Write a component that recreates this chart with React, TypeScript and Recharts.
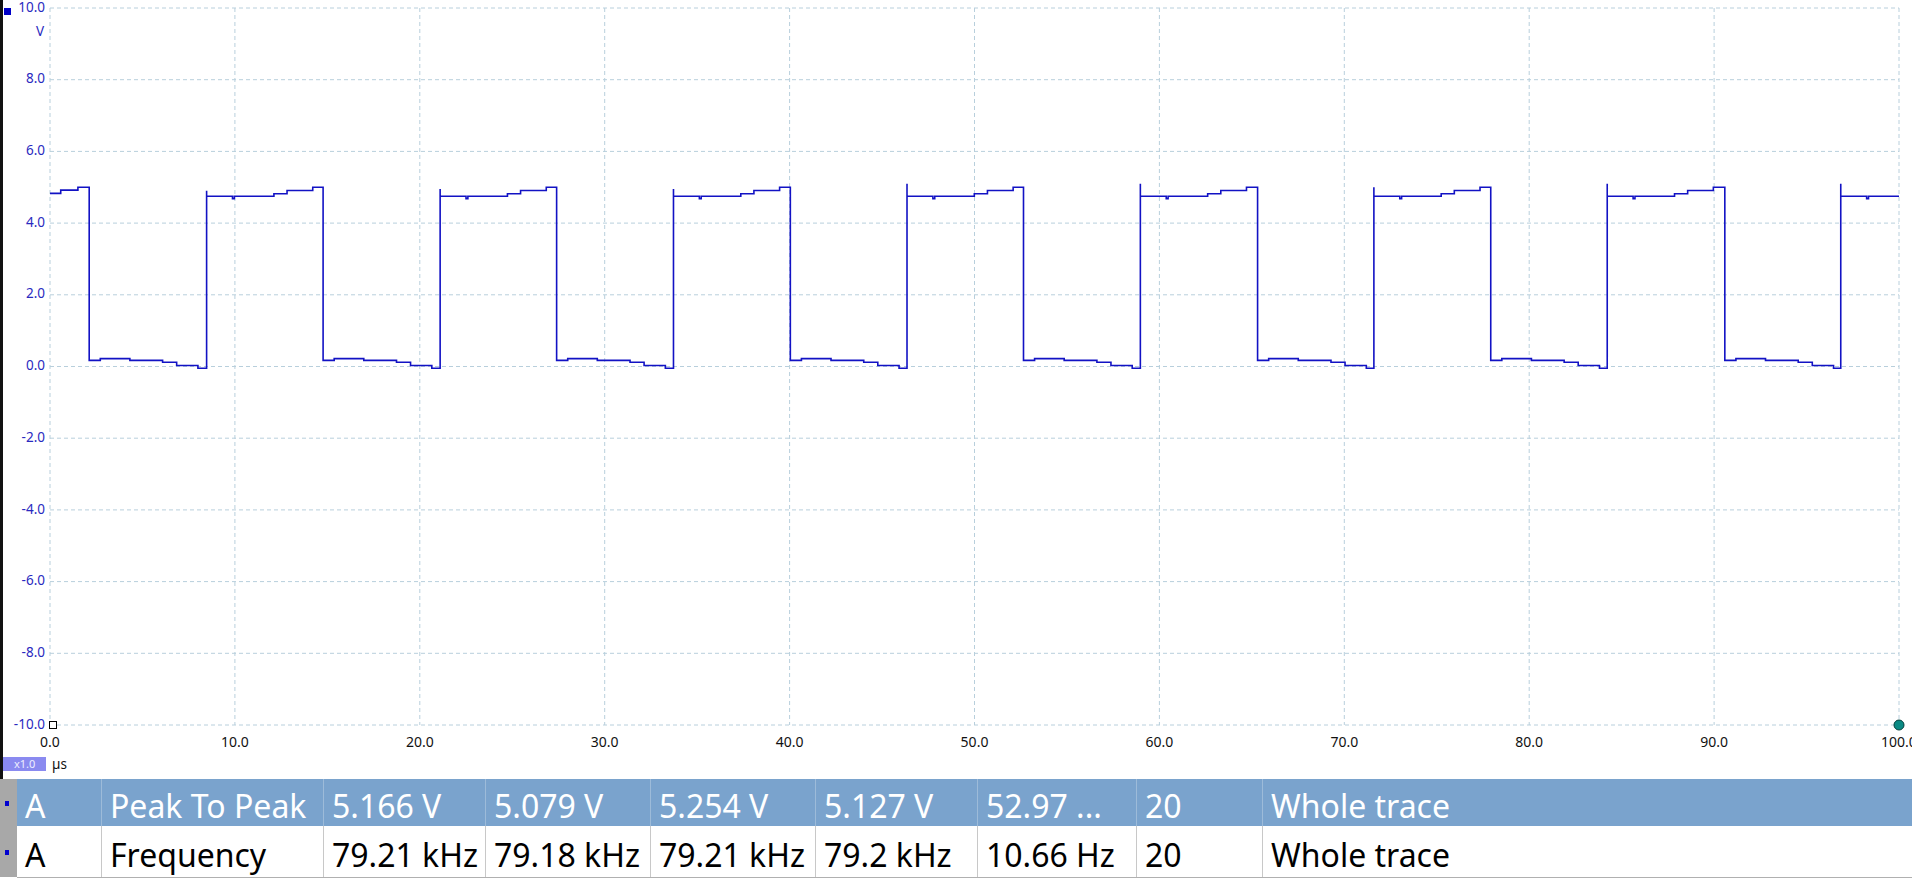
import React from "react";
import { LineChart, Line, XAxis, YAxis, CartesianGrid, ReferenceDot } from "recharts";

// Oscilloscope trace: [time µs, volts]
const trace: [number, number][] = [
  [0, 4.83], [0.58, 4.83], [0.58, 4.92], [1.51, 4.92], [1.51, 5.0], [2.12, 5.0],
  [2.12, 0.17], [2.72, 0.17], [2.72, 0.22], [4.32, 0.22], [4.32, 0.17], [6.09, 0.17], [6.09, 0.12], [6.85, 0.12], [6.85, 0.03], [8.0, 0.03], [8.0, -0.05], [8.47, -0.05],
  [8.47, 4.9], [8.47, 4.75], [9.87, 4.75], [9.87, 4.68], [9.97, 4.68], [9.97, 4.75], [12.11, 4.75], [12.11, 4.82], [12.82, 4.82], [12.82, 4.91], [14.21, 4.91], [14.21, 5.0], [14.77, 5.0],
  [14.77, 0.17], [15.37, 0.17], [15.37, 0.22], [16.97, 0.22], [16.97, 0.17], [18.74, 0.17], [18.74, 0.12], [19.5, 0.12], [19.5, 0.03], [20.65, 0.03], [20.65, -0.05], [21.1, -0.05],
  [21.1, 4.95], [21.1, 4.75], [22.5, 4.75], [22.5, 4.68], [22.6, 4.68], [22.6, 4.75], [24.74, 4.75], [24.74, 4.82], [25.45, 4.82], [25.45, 4.91], [26.84, 4.91], [26.84, 5.0], [27.4, 5.0],
  [27.4, 0.17], [28.0, 0.17], [28.0, 0.22], [29.6, 0.22], [29.6, 0.17], [31.37, 0.17], [31.37, 0.12], [32.13, 0.12], [32.13, 0.03], [33.28, 0.03], [33.28, -0.05], [33.72, -0.05],
  [33.72, 4.95], [33.72, 4.75], [35.12, 4.75], [35.12, 4.68], [35.22, 4.68], [35.22, 4.75], [37.36, 4.75], [37.36, 4.82], [38.07, 4.82], [38.07, 4.91], [39.46, 4.91], [39.46, 5.0], [40.04, 5.0],
  [40.04, 0.17], [40.64, 0.17], [40.64, 0.22], [42.24, 0.22], [42.24, 0.17], [44.01, 0.17], [44.01, 0.12], [44.77, 0.12], [44.77, 0.03], [45.92, 0.03], [45.92, -0.05], [46.35, -0.05],
  [46.35, 5.1], [46.35, 4.75], [47.75, 4.75], [47.75, 4.68], [47.85, 4.68], [47.85, 4.75], [49.99, 4.75], [49.99, 4.82], [50.7, 4.82], [50.7, 4.91], [52.09, 4.91], [52.09, 5.0], [52.65, 5.0],
  [52.65, 0.17], [53.25, 0.17], [53.25, 0.22], [54.85, 0.22], [54.85, 0.17], [56.62, 0.17], [56.62, 0.12], [57.38, 0.12], [57.38, 0.03], [58.53, 0.03], [58.53, -0.05], [58.97, -0.05],
  [58.97, 5.1], [58.97, 4.75], [60.37, 4.75], [60.37, 4.68], [60.47, 4.68], [60.47, 4.75], [62.61, 4.75], [62.61, 4.82], [63.32, 4.82], [63.32, 4.91], [64.71, 4.91], [64.71, 5.0], [65.31, 5.0],
  [65.31, 0.17], [65.91, 0.17], [65.91, 0.22], [67.51, 0.22], [67.51, 0.17], [69.28, 0.17], [69.28, 0.12], [70.04, 0.12], [70.04, 0.03], [71.19, 0.03], [71.19, -0.05], [71.6, -0.05],
  [71.6, 5.0], [71.6, 4.75], [73.0, 4.75], [73.0, 4.68], [73.1, 4.68], [73.1, 4.75], [75.24, 4.75], [75.24, 4.82], [75.95, 4.82], [75.95, 4.91], [77.34, 4.91], [77.34, 5.0], [77.92, 5.0],
  [77.92, 0.17], [78.52, 0.17], [78.52, 0.22], [80.12, 0.22], [80.12, 0.17], [81.89, 0.17], [81.89, 0.12], [82.65, 0.12], [82.65, 0.03], [83.8, 0.03], [83.8, -0.05], [84.22, -0.05],
  [84.22, 5.1], [84.22, 4.75], [85.62, 4.75], [85.62, 4.68], [85.72, 4.68], [85.72, 4.75], [87.86, 4.75], [87.86, 4.82], [88.57, 4.82], [88.57, 4.91], [89.96, 4.91], [89.96, 5.0], [90.58, 5.0],
  [90.58, 0.17], [91.18, 0.17], [91.18, 0.22], [92.78, 0.22], [92.78, 0.17], [94.55, 0.17], [94.55, 0.12], [95.31, 0.12], [95.31, 0.03], [96.46, 0.03], [96.46, -0.05], [96.85, -0.05],
  [96.85, 5.1], [96.85, 4.75], [98.25, 4.75], [98.25, 4.68], [98.35, 4.68], [98.35, 4.75], [100, 4.75],
];

const xTicks = [0, 10, 20, 30, 40, 50, 60, 70, 80, 90, 100];
const yTicks = [-10, -8, -6, -4, -2, 0, 2, 4, 6, 8, 10];

const colEdges = [17, 101, 323, 485, 650, 815, 977, 1136, 1262, 1912];
const row1 = ["A", "Peak To Peak", "5.166 V", "5.079 V", "5.254 V", "5.127 V", "52.97 ...", "20", "Whole trace"];
const row2 = ["A", "Frequency", "79.21 kHz", "79.18 kHz", "79.21 kHz", "79.2 kHz", "10.66 Hz", "20", "Whole trace"];

const data = trace.map(([t, v]) => ({ t, v }));

const XTick = (props: any) => (
  <text x={props.x} y={props.y + 18} textAnchor="middle" dominantBaseline="middle" fontSize={14} fill="#111" fontFamily="Noto Sans">
    {Number(props.payload.value).toFixed(1)}
  </text>
);
const YTick = (props: any) => (
  <text x={props.x - 5} y={props.y} textAnchor="end" dominantBaseline="middle" fontSize={13.5} fill="#2a2ac0" fontFamily="Noto Sans">
    {Number(props.payload.value).toFixed(1)}
  </text>
);

const SquareMarker = (props: any) => (
  <rect x={props.cx - 0.5} y={props.cy - 3.5} width={7} height={7} fill="#fff" stroke="#000" strokeWidth={1} />
);

const Row = ({ cells, top, height, bg, color, border }: any) => (
  <>
    <div style={{ position: "absolute", left: 0, top, width: 17, height, background: "#a8a8a8" }} />
    <div style={{ position: "absolute", left: 5, top: top + height / 2 - 2, width: 4, height: 5, background: "#0000d0" }} />
    {cells.map((c: string, i: number) => (
      <div
        key={i}
        style={{
          position: "absolute",
          left: colEdges[i],
          top,
          width: colEdges[i + 1] - colEdges[i],
          height,
          background: bg,
          borderLeft: i > 0 ? `1px solid ${border}` : "none",
          boxSizing: "border-box",
          color,
          fontSize: 32,
          fontFamily: "Noto Sans",
          lineHeight: `${height + 6}px`,
          paddingLeft: 8,
          whiteSpace: "nowrap",
          overflow: "hidden",
        }}
      >
        {c}
      </div>
    ))}
  </>
);

export default function App() {
  return (
    <div style={{ position: "fixed", left: 0, top: 0, width: 1912, height: 880, background: "#fff", overflow: "hidden", fontFamily: "Noto Sans" }}>
      <LineChart width={1912} height={780} data={data} margin={{ top: 8, right: 13, bottom: 0, left: 0 }}>
        <CartesianGrid stroke="#b8cfdc" strokeDasharray="4 3" />
        <XAxis dataKey="t" type="number" domain={[0, 100]} ticks={xTicks} height={55} tickSize={0} tickMargin={0} axisLine={false} tickLine={false} tick={<XTick />} interval={0} />
        <YAxis type="number" domain={[-10, 10]} ticks={yTicks} width={50} tickSize={0} tickMargin={0} axisLine={false} tickLine={false} tick={<YTick />} interval={0} />
        <Line type="linear" dataKey="v" stroke="#1212c4" strokeWidth={1.6} dot={false} isAnimationActive={false} />
        <ReferenceDot x={0} y={-10} r={4} shape={<SquareMarker />} ifOverflow="visible" />
        <ReferenceDot x={100} y={-10} r={5} fill="#0a8a84" stroke="#03403d" strokeWidth={1} ifOverflow="visible" />
      </LineChart>
      {/* left dark edge and channel marker */}
      <div style={{ position: "absolute", left: 0, top: 0, width: 3, height: 779, background: "#111" }} />
      <div style={{ position: "absolute", left: 4, top: 8, width: 7, height: 7, background: "#0000c8" }} />
      <div style={{ position: "absolute", left: 36, top: 23, fontSize: 13.5, color: "#2a2ac0", lineHeight: "16px" }}>V</div>
      {/* x scale badge and unit */}
      <div style={{ position: "absolute", left: 3, top: 757, width: 43, height: 14, background: "#8a8af0", color: "#eef", fontSize: 11, lineHeight: "14px", paddingLeft: 11, boxSizing: "border-box" }}>x1.0</div>
      <div style={{ position: "absolute", left: 52, top: 755, fontSize: 13.5, color: "#111", lineHeight: "18px" }}>µs</div>
      {/* measurements table */}
      <Row cells={row1} top={779} height={47} bg="#7aa3cd" color="#fff" border="#9dbbd9" />
      <Row cells={row2} top={826} height={51} bg="#fff" color="#000" border="#c8c8c8" />
      <div style={{ position: "absolute", left: 17, top: 877, width: 1895, height: 1, background: "#b0b0b0" }} />
    </div>
  );
}
